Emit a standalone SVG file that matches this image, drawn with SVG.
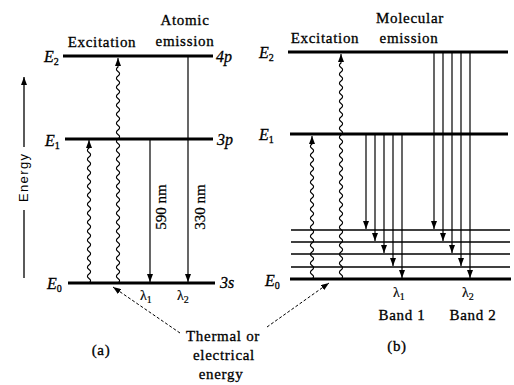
<svg xmlns="http://www.w3.org/2000/svg" width="514" height="385" viewBox="0 0 514 385">
<style>
.t{font-family:"Liberation Serif","Times New Roman",serif;font-size:15px;fill:#000;stroke:#000;stroke-width:0.3;letter-spacing:0.7px}
.el{font-family:"Liberation Serif","Times New Roman",serif;font-size:16px;font-style:italic;fill:#000;stroke:#000;stroke-width:0.3}
.sub{font-size:10px;font-style:normal}
.lam{font-family:"Liberation Serif","Times New Roman",serif;font-size:14px;fill:#000;stroke:#000;stroke-width:0.2}
.lv{stroke:#000;stroke-width:3}
.sl{stroke:#000;stroke-width:1.6}
.em{stroke:#000;stroke-width:1.2;fill:none;marker-end:url(#ah)}
.wv{stroke:#000;stroke-width:1.1;fill:none;marker-end:url(#ah)}
.ld{stroke:#000;stroke-width:1;stroke-dasharray:3,2;fill:none;marker-end:url(#ah)}
.nm{font-family:"Liberation Serif","Times New Roman",serif;font-size:15px;fill:#000;stroke:#000;stroke-width:0.25}
.en{font-family:"Liberation Sans",Arial,sans-serif;font-size:13px;fill:#000}
</style>
<defs>
<marker id="ah" viewBox="0 0 8 6" refX="8" refY="3" markerUnits="userSpaceOnUse" markerWidth="8" markerHeight="6" orient="auto">
<path d="M0,0 L8,3 L0,6 z" fill="#000"/>
</marker>
</defs>
<rect width="514" height="385" fill="#fff"/>

<!-- Energy axis -->
<g id="energy-axis">
<line x1="24" y1="278" x2="24" y2="210" stroke="#000" stroke-width="1.3"/>
<line x1="24" y1="147" x2="24" y2="77" stroke="#000" stroke-width="1.3" marker-end="url(#ah)"/>
<text class="en" transform="translate(28,178) rotate(-90)" text-anchor="middle" textLength="48">Energy</text>
</g>

<!-- Panel (a) -->
<g id="a-E2">
<line class="lv" x1="63" y1="56" x2="213" y2="56"/>
<text class="el" x="44" y="62">E<tspan class="sub" dy="3">2</tspan></text>
<text class="el" x="216" y="62">4p</text>
</g>
<g id="a-E1">
<line class="lv" x1="65" y1="139" x2="213" y2="139"/>
<text class="el" x="45" y="146">E<tspan class="sub" dy="3">1</tspan></text>
<text class="el" x="217" y="145">3p</text>
</g>
<g id="a-E0">
<line class="lv" x1="68" y1="283" x2="215" y2="283"/>
<text class="el" x="47" y="289">E<tspan class="sub" dy="3">0</tspan></text>
<text class="el" x="220" y="288">3s</text>
</g>
<g id="a-labels">
<text class="t" x="102" y="47" text-anchor="middle">Excitation</text>
<text class="t" x="185" y="25" text-anchor="middle">Atomic</text>
<text class="t" x="185" y="46" text-anchor="middle">emission</text>
<text class="nm" transform="translate(166,207) rotate(-90)" text-anchor="middle">590 nm</text>
<text class="nm" transform="translate(205,207) rotate(-90)" text-anchor="middle">330 nm</text>
<text class="lam" x="140" y="300">λ<tspan class="sub" dy="3">1</tspan></text>
<text class="lam" x="177" y="300">λ<tspan class="sub" dy="3">2</tspan></text>
<text class="t" x="101" y="355" text-anchor="middle">(a)</text>
</g>

<!-- Panel (b) -->
<g id="b-E2">
<line class="lv" x1="288" y1="52" x2="508" y2="52"/>
<text class="el" x="259" y="58">E<tspan class="sub" dy="3">2</tspan></text>
</g>
<g id="b-E1">
<line class="lv" x1="290" y1="134" x2="508" y2="134"/>
<text class="el" x="259" y="140">E<tspan class="sub" dy="3">1</tspan></text>
</g>
<g id="b-sublevels">
<line class="sl" x1="291" y1="230" x2="510" y2="230"/>
<line class="sl" x1="291" y1="242" x2="510" y2="242"/>
<line class="sl" x1="291" y1="254" x2="510" y2="254"/>
<line class="sl" x1="291" y1="267" x2="510" y2="267"/>
</g>
<g id="b-E0">
<line class="lv" x1="290" y1="279" x2="511" y2="279" stroke-width="3.5"/>
<text class="el" x="265" y="286">E<tspan class="sub" dy="3">0</tspan></text>
</g>
<g id="b-labels">
<text class="t" x="325" y="43" text-anchor="middle">Excitation</text>
<text class="t" x="410" y="23" text-anchor="middle">Molecular</text>
<text class="t" x="409" y="43" text-anchor="middle">emission</text>
<text class="lam" x="393" y="297">λ<tspan class="sub" dy="3">1</tspan></text>
<text class="lam" x="462" y="297">λ<tspan class="sub" dy="3">2</tspan></text>
<text class="t" x="402" y="320" text-anchor="middle">Band 1</text>
<text class="t" x="473" y="320" text-anchor="middle">Band 2</text>
<text class="t" x="397" y="351" text-anchor="middle">(b)</text>
</g>

<g id="source">
<text class="t" x="223" y="341" text-anchor="middle">Thermal or</text>
<text class="t" x="224" y="360" text-anchor="middle">electrical</text>
<text class="t" x="221" y="379" text-anchor="middle">energy</text>
</g>

<g id="connectors">
<!-- panel a excitation (wavy) -->
<path class="wv" d="M89,283 q3.2,-2.25 0,-4.5 t0,-4.5 t0,-4.5 t0,-4.5 t0,-4.5 t0,-4.5 t0,-4.5 t0,-4.5 t0,-4.5 t0,-4.5 t0,-4.5 t0,-4.5 t0,-4.5 t0,-4.5 t0,-4.5 t0,-4.5 t0,-4.5 t0,-4.5 t0,-4.5 t0,-4.5 t0,-4.5 t0,-4.5 t0,-4.5 t0,-4.5 t0,-4.5 t0,-4.5 t0,-4.5 t0,-4.5 t0,-4.5 t0,-4.5 V140"/>
<path class="wv" d="M118,283 q3.2,-2.25 0,-4.5 t0,-4.5 t0,-4.5 t0,-4.5 t0,-4.5 t0,-4.5 t0,-4.5 t0,-4.5 t0,-4.5 t0,-4.5 t0,-4.5 t0,-4.5 t0,-4.5 t0,-4.5 t0,-4.5 t0,-4.5 t0,-4.5 t0,-4.5 t0,-4.5 t0,-4.5 t0,-4.5 t0,-4.5 t0,-4.5 t0,-4.5 t0,-4.5 t0,-4.5 t0,-4.5 t0,-4.5 t0,-4.5 t0,-4.5 t0,-4.5 t0,-4.5 t0,-4.5 t0,-4.5 t0,-4.5 t0,-4.5 t0,-4.5 t0,-4.5 t0,-4.5 t0,-4.5 t0,-4.5 t0,-4.5 t0,-4.5 t0,-4.5 t0,-4.5 t0,-4.5 t0,-4.5 t0,-4.5 V58"/>
<!-- panel a emission -->
<line class="em" x1="150" y1="140" x2="150" y2="282"/>
<line class="em" x1="188" y1="57" x2="188" y2="282"/>
<!-- panel b excitation (wavy) -->
<path class="wv" d="M312,279 q3.2,-2.25 0,-4.5 t0,-4.5 t0,-4.5 t0,-4.5 t0,-4.5 t0,-4.5 t0,-4.5 t0,-4.5 t0,-4.5 t0,-4.5 t0,-4.5 t0,-4.5 t0,-4.5 t0,-4.5 t0,-4.5 t0,-4.5 t0,-4.5 t0,-4.5 t0,-4.5 t0,-4.5 t0,-4.5 t0,-4.5 t0,-4.5 t0,-4.5 t0,-4.5 t0,-4.5 t0,-4.5 t0,-4.5 t0,-4.5 t0,-4.5 V136"/>
<path class="wv" d="M341,279 q3.2,-2.25 0,-4.5 t0,-4.5 t0,-4.5 t0,-4.5 t0,-4.5 t0,-4.5 t0,-4.5 t0,-4.5 t0,-4.5 t0,-4.5 t0,-4.5 t0,-4.5 t0,-4.5 t0,-4.5 t0,-4.5 t0,-4.5 t0,-4.5 t0,-4.5 t0,-4.5 t0,-4.5 t0,-4.5 t0,-4.5 t0,-4.5 t0,-4.5 t0,-4.5 t0,-4.5 t0,-4.5 t0,-4.5 t0,-4.5 t0,-4.5 t0,-4.5 t0,-4.5 t0,-4.5 t0,-4.5 t0,-4.5 t0,-4.5 t0,-4.5 t0,-4.5 t0,-4.5 t0,-4.5 t0,-4.5 t0,-4.5 t0,-4.5 t0,-4.5 t0,-4.5 t0,-4.5 t0,-4.5 t0,-4.5 V54"/>
<!-- band 1 -->
<line class="em" x1="366" y1="135" x2="366" y2="229"/>
<line class="em" x1="375" y1="135" x2="375" y2="241"/>
<line class="em" x1="384" y1="135" x2="384" y2="253"/>
<line class="em" x1="393" y1="135" x2="393" y2="266"/>
<line class="em" x1="402" y1="135" x2="402" y2="278"/>
<!-- band 2 -->
<line class="em" x1="434" y1="53" x2="434" y2="229"/>
<line class="em" x1="443" y1="53" x2="443" y2="241"/>
<line class="em" x1="452" y1="53" x2="452" y2="253"/>
<line class="em" x1="461" y1="53" x2="461" y2="266"/>
<line class="em" x1="470" y1="53" x2="470" y2="278"/>
<!-- leaders -->
<path class="ld" d="M180,333 L113,287"/>
<path class="ld" d="M267,327 L329,283"/>
</g>
</svg>
